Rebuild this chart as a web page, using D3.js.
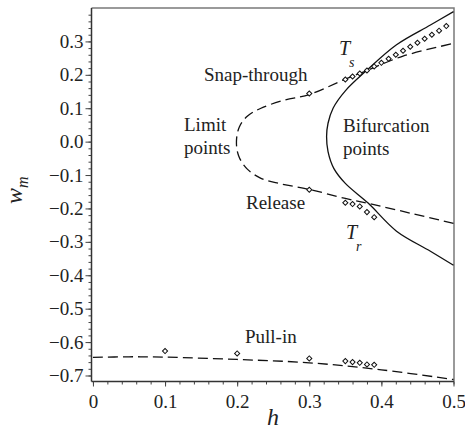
<!DOCTYPE html>
<html lang="en">
<head>
    <meta charset="UTF-8">
    <title>Limit and bifurcation points</title>
    <script src="https://cdn.jsdelivr.net/npm/d3@7/dist/d3.min.js"></script>
    <style>
        body { margin: 0; background: #fff; }
        text { font-family: "Liberation Serif", "Times New Roman", serif; fill: #222; }
    </style>
</head>
<body>
    <div id="chart"></div>

    <script>
        // axis ticks
        const xTicks = [0, 0.1, 0.2, 0.3, 0.4, 0.5];
        const xTickLabels = ['0', '0.1', '0.2', '0.3', '0.4', '0.5'];
        const yTicks = [0.3, 0.2, 0.1, 0.0, -0.1, -0.2, -0.3, -0.4, -0.5, -0.6, -0.7];
        const yTickLabels = ['0.3', '0.2', '0.1', '0.0', '\u22120.1', '\u22120.2', '\u22120.3', '\u22120.4', '\u22120.5', '\u22120.6', '\u22120.7'];

        // dashed curve through the limit points (h, w_m), lower branch -> vertex -> upper branch
        const limitCurve = [
            [0.5, -0.245], [0.44, -0.214], [0.382, -0.185], [0.35, -0.170], [0.3, -0.143],
            [0.26, -0.126], [0.233, -0.110], [0.213, -0.080], [0.202, -0.042], [0.199, 0.0],
            [0.203, 0.044], [0.214, 0.076], [0.233, 0.100], [0.265, 0.124], [0.3, 0.141],
            [0.35, 0.187], [0.379, 0.212], [0.43, 0.256], [0.5, 0.294]
        ];

        // solid curve through the bifurcation points
        const bifurcationCurve = [
            [0.5, -0.370], [0.468, -0.328], [0.421, -0.268], [0.3816, -0.184], [0.35, -0.125],
            [0.334, -0.080], [0.326, -0.030], [0.324, 0.015], [0.326, 0.055], [0.333, 0.100],
            [0.35, 0.152], [0.379, 0.212], [0.421, 0.290], [0.468, 0.349], [0.5, 0.389]
        ];

        // dashed pull-in curve
        const pullInCurve = [
            [0, -0.646], [0.05, -0.644], [0.1, -0.645], [0.2, -0.652], [0.3, -0.662],
            [0.4, -0.683], [0.5, -0.712]
        ];

        // diamond markers (simulation points)
        const snapH = [0.3, 0.35, 0.36, 0.37, 0.38, 0.39, 0.40, 0.41, 0.42, 0.43, 0.44, 0.45, 0.46, 0.47, 0.48, 0.49];
        const snapW = [0.144, 0.186, 0.195, 0.204, 0.213, 0.225, 0.236, 0.248, 0.260, 0.272, 0.284, 0.296, 0.308, 0.320, 0.332, 0.346];
        const releaseH = [0.3, 0.35, 0.36, 0.37, 0.38, 0.39];
        const releaseW = [-0.144, -0.183, -0.187, -0.194, -0.211, -0.226];
        const pullInH = [0.1, 0.2, 0.3, 0.35, 0.36, 0.37, 0.38, 0.39];
        const pullInW = [-0.627, -0.634, -0.649, -0.657, -0.660, -0.662, -0.667, -0.668];

        const width = 465;
        const height = 434;
        const frame = { left: 91.5, right: 454, top: 8, bottom: 381.5 };
        const font = '"Liberation Serif", "Times New Roman", serif';

        const svg = d3.select('#chart').append('svg')
            .attr('width', width)
            .attr('height', height);

        const x = d3.scaleLinear().domain([-0.002, 0.5]).range([frame.left, 453.5]);
        const y = d3.scaleLinear().domain([-0.718, 0.4]).range([frame.bottom, frame.top]);

        // top and right border
        svg.append('path')
            .attr('d', `M${frame.left},${frame.top}H${frame.right}V${frame.bottom}`)
            .attr('fill', 'none')
            .attr('stroke', '#7a7a7a')
            .attr('stroke-width', 1.5);

        // minor ticks every 0.02
        const xMinor = d3.range(0, 0.5001, 0.02).map(v => +v.toFixed(2));
        const yMinor = d3.range(-0.7, 0.3801, 0.02).map(v => +v.toFixed(2));

        const xAxis = svg.append('g')
            .attr('transform', `translate(0,${frame.bottom})`);
        xAxis.append('g')
            .call(d3.axisBottom(x).tickValues(xMinor).tickSize(3).tickFormat(''))
            .call(g => g.select('.domain').remove());
        xAxis.append('g')
            .call(d3.axisBottom(x).tickValues(xTicks).tickSize(5).tickPadding(8)
                .tickFormat((d, i) => xTickLabels[i]));
        xAxis.selectAll('path.domain').attr('d', `M${frame.left},0H${frame.right}`).attr('stroke', '#333').attr('stroke-width', 1.5);
        xAxis.selectAll('text').attr('font-size', '19px').attr('font-family', font).attr('fill', '#222');
        xAxis.selectAll('line').attr('stroke', '#444');

        const yAxis = svg.append('g')
            .attr('transform', `translate(${frame.left},0)`);
        yAxis.append('g')
            .call(d3.axisLeft(y).tickValues(yMinor).tickSize(3).tickFormat(''))
            .call(g => g.select('.domain').remove());
        yAxis.append('g')
            .call(d3.axisLeft(y).tickValues(yTicks).tickSize(6).tickPadding(2)
                .tickFormat((d, i) => yTickLabels[i]));
        yAxis.selectAll('path.domain').attr('d', `M0,${frame.top}V${frame.bottom}`).attr('stroke', '#333').attr('stroke-width', 1.5);
        yAxis.selectAll('text').attr('font-size', '19px').attr('font-family', font).attr('fill', '#222');
        yAxis.selectAll('line').attr('stroke', '#444');

        // curves
        const line = d3.line()
            .x(d => x(d[0]))
            .y(d => y(d[1]))
            .curve(d3.curveCatmullRom);

        const curves = svg.append('g').attr('fill', 'none').attr('stroke', '#111').attr('stroke-width', 1.3);
        curves.append('path').datum(limitCurve).attr('d', line).attr('stroke-dasharray', '10,5');
        curves.append('path').datum(pullInCurve).attr('d', line).attr('stroke-dasharray', '10,5');
        curves.append('path').datum(bifurcationCurve).attr('d', line);

        // diamonds
        const diamond = d3.symbol().type(d3.symbolSquare).size(13);
        function drawMarkers(hs, ws) {
            svg.append('g').selectAll('path')
                .data(hs.map((h, i) => [h, ws[i]]))
                .join('path')
                .attr('d', diamond)
                .attr('transform', d => `translate(${x(d[0])},${y(d[1])}) rotate(45)`)
                .attr('fill', '#fff')
                .attr('stroke', '#111')
                .attr('stroke-width', 1);
        }
        drawMarkers(snapH, snapW);
        drawMarkers(releaseH, releaseW);
        drawMarkers(pullInH, pullInW);

        // annotations
        const labels = [
            { text: 'Snap-through', x: 204, y: 81 },
            { text: 'Limit', x: 184, y: 131 },
            { text: 'points', x: 184, y: 154 },
            { text: 'Bifurcation', x: 343, y: 132 },
            { text: 'points', x: 343, y: 155 },
            { text: 'Release', x: 246, y: 209 },
            { text: 'Pull-in', x: 245, y: 343 }
        ];
        svg.append('g').selectAll('text')
            .data(labels)
            .join('text')
            .attr('x', d => d.x)
            .attr('y', d => d.y)
            .attr('font-size', '19px')
            .text(d => d.text);

        function subLabel(main, sub, mx, my, sx, sy) {
            svg.append('text').attr('x', mx).attr('y', my)
                .attr('font-size', '20px').attr('font-style', 'italic').text(main);
            svg.append('text').attr('x', sx).attr('y', sy)
                .attr('font-size', '14px').attr('font-style', 'italic').text(sub);
        }
        subLabel('T', 's', 339, 55, 349, 67);
        subLabel('T', 'r', 346, 239, 356, 251);

        // axis titles
        svg.append('text')
            .attr('x', 273).attr('y', 425)
            .attr('text-anchor', 'middle')
            .attr('font-size', '24px').attr('font-style', 'italic')
            .text('h');

        const yTitle = svg.append('text')
            .attr('transform', 'translate(22,204) rotate(-90)')
            .attr('font-size', '24px').attr('font-style', 'italic');
        yTitle.append('tspan').text('w');
        yTitle.append('tspan').attr('dy', 6).attr('font-size', '16px').text('m');
    </script>
</body>
</html>
